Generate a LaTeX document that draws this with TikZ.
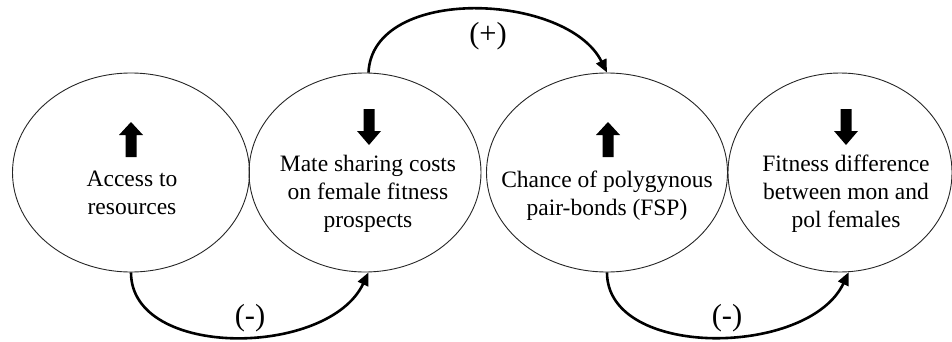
\documentclass[tikz,border=0pt]{standalone}
\usepackage{fontspec}
\setmainfont{Liberation Serif}
\usetikzlibrary{arrows.meta,shapes.geometric}
\tikzset{
  oval/.style={ellipse, draw=black!85, line width=0.9pt, minimum height=199pt, inner sep=0pt},
  lbl/.style={font=\fontsize{23.5}{28}\selectfont, align=center, inner sep=0pt, anchor=base},
  sign/.style={font=\fontsize{30.5}{34}\selectfont, inner sep=0pt},
  link/.style={line width=2.6pt, -{Triangle[length=13pt,width=11pt]}},
  uparrow/.pic={\fill (-5.5,0) -- (-5.5,22) -- (-12,22) -- (0,35) -- (12,22) -- (5.5,22) -- (5.5,0) -- cycle;},
  downarrow/.pic={\fill (-5.5,36) -- (-5.5,14) -- (-12,14) -- (0,0) -- (12,14) -- (5.5,14) -- (5.5,36) -- cycle;}
}
\begin{document}
\begin{tikzpicture}[x=1pt,y=1pt]
\useasboundingbox (0,0) rectangle (952,341);
\node[oval, minimum width=237pt] (e1) at (131,168.5) {};
\node[oval, minimum width=232pt] (e2) at (365,168.5) {};
\node[oval, minimum width=241pt] (e3) at (607,168.5) {};
\node[oval, minimum width=224pt] (e4) at (840,168.5) {};
\node[lbl] (t1) at (132,127) {Access to\\resources};
\node[lbl] (t2) at (368,114) {Mate sharing costs\\on female fitness\\prospects};
\node[lbl] (t3) at (607,126) {Chance of polygynous\\pair-bonds (FSP)};
\node[lbl] (t4) at (846,114) {Fitness difference\\between mon and\\pol females};
\pic at (131,184) {uparrow};
\pic at (608,184) {uparrow};
\pic at (369,196) {downarrow};
\pic at (846,196) {downarrow};
\draw[link] (e2.88) .. controls +(4,88) and +(-40,80) .. (e3.north);
\draw[link] (e1.south) .. controls +(0,-87) and +(-40,-85) .. (e2.-88);
\draw[link] (e3.south) .. controls +(0,-87) and +(-40,-85) .. (e4.-85);
\node[sign] (s1) at (488,305) {(+)};
\node[sign] (s2) at (250,23) {(-)};
\node[sign] (s3) at (727,23) {(-)};
\end{tikzpicture}
\end{document}
